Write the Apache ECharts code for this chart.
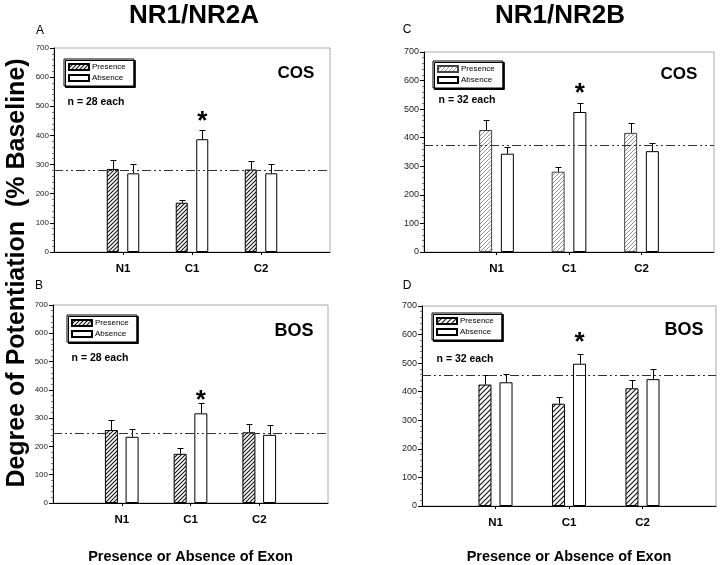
<!DOCTYPE html>
<html>
<head>
<meta charset="utf-8">
<script src="https://cdn.jsdelivr.net/npm/echarts@6/dist/echarts.min.js"></script>
<style>html,body{margin:0;padding:0;background:#fff}#c{width:720px;height:565px}</style>
</head>
<body>
<div id="c"></div>
<script>
// ---------- data ----------
const categories = ['', 'N1', 'C1', 'C2', ''];
const yTicks = [0, 100, 200, 300, 400, 500, 600, 700];

const aPresence = [285, 169, 283];
const aPresenceErr = [32, 11, 30];
const aAbsence = [270, 387, 270];
const aAbsenceErr = [31, 30, 31];
const aBaseline = 280;
const aStar = 448;

const bPresence = [258, 174, 250];
const bPresenceErr = [35, 19, 28];
const bAbsence = [234, 317, 241];
const bAbsenceErr = [29, 36, 34];
const bBaseline = 246;
const bStar = 360;

const cPresence = [427, 281, 417];
const cPresenceErr = [35, 17, 35];
const cAbsence = [344, 490, 353];
const cAbsenceErr = [24, 32, 28];
const cBaseline = 375;
const cStar = 552;

const dPresence = [425, 358, 412];
const dPresenceErr = [33, 23, 28];
const dAbsence = [433, 498, 444];
const dAbsenceErr = [28, 34, 34];
const dBaseline = 458;
const dStar = 570;

const starCategory = 'C1';
const legendNames = ['Presence', 'Absence'];
const panelTags = ['A', 'B', 'C', 'D'];
const nTexts = ['n = 28 each', 'n = 28 each', 'n = 32 each', 'n = 32 each'];
const stimTexts = ['COS', 'BOS', 'COS', 'BOS'];
const groupTitles = ['NR1/NR2A', 'NR1/NR2B'];
const yTitle = 'Degree of Potentiation  (% Baseline)';
const xTitle = 'Presence or Absence of Exon';

// ---------- styles ----------
const FONT = '"Liberation Sans", Arial, Helvetica, sans-serif';
function hatch(color, lw, step) {
  const c = document.createElement('canvas');
  c.width = step; c.height = step;
  const g = c.getContext('2d');
  g.fillStyle = '#fff'; g.fillRect(0, 0, step, step);
  g.strokeStyle = color; g.lineWidth = lw;
  g.beginPath();
  g.moveTo(0, step); g.lineTo(step, 0);
  g.moveTo(-1, 1); g.lineTo(1, -1);
  g.moveTo(step - 1, step + 1); g.lineTo(step + 1, step - 1);
  g.stroke();
  return { image: c, repeat: 'repeat' };
}

const panels = [
  { pres: aPresence, presErr: aPresenceErr, abs: aAbsence, absErr: aAbsenceErr, base: aBaseline, star: aStar,
    grid: { left: 54, top: 48, width: 276, height: 204 }, bw: 12, gap: '71%', off: 10.25,
    pat: hatch('#111', 1.1, 4), pBorder: '#000', lab: 8, legend: { left: 64, top: 59 } },
  { pres: bPresence, presErr: bPresenceErr, abs: bAbsence, absErr: bAbsenceErr, base: bBaseline, star: bStar,
    grid: { left: 53, top: 305, width: 275, height: 207 }, bw: 13, gap: '59%', off: 10.35,
    pat: hatch('#111', 1.1, 4), pBorder: '#000', lab: 8, legend: { left: 67, top: 315 } },
  { pres: cPresence, presErr: cPresenceErr, abs: cAbsence, absErr: cAbsenceErr, base: cBaseline, star: cStar,
    grid: { left: 424, top: 52, width: 290, height: 200 }, bw: 13, gap: '67%', off: 10.85,
    pat: hatch('#777', 0.8, 4), pBorder: '#444', lab: 9, legend: { left: 433, top: 61 } },
  { pres: dPresence, presErr: dPresenceErr, abs: dAbsence, absErr: dAbsenceErr, base: dBaseline, star: dStar,
    grid: { left: 422, top: 306, width: 294, height: 202.5 }, bw: 13, gap: '62%', off: 10.5,
    pat: hatch('#111', 1.1, 5), pBorder: '#000', lab: 9, legend: { left: 432, top: 313 } }
];

function pad(arr) { return ['-'].concat(arr).concat(['-']); }

function errRender(off) {
  return function (params, api) {
    const i = api.value(0), v = api.value(1), e = api.value(2), s = api.value(3);
    const p0 = api.coord([i, v]);
    const p1 = api.coord([i, v + e]);
    const x = Math.round(p0[0] + s * off) + 0.5;
    const yt = Math.round(p1[1]) + 0.5;
    return {
      type: 'group',
      children: [
        { type: 'line', shape: { x1: x, y1: p0[1], x2: x, y2: yt }, style: { stroke: '#000', lineWidth: 1 } },
        { type: 'line', shape: { x1: x - 3, y1: yt, x2: x + 3, y2: yt }, style: { stroke: '#000', lineWidth: 1 } }
      ]
    };
  };
}

const grids = [], xAxes = [], yAxes = [], series = [], legends = [];
panels.forEach((p, k) => {
  const tag = panelTags[k];
  grids.push(Object.assign({ show: true, borderColor: '#aaa', borderWidth: 1, backgroundColor: 'transparent' }, p.grid));
  xAxes.push({
    type: 'category', gridIndex: k, data: categories, boundaryGap: false,
    axisLine: { lineStyle: { color: '#000', width: 1 } },
    axisTick: { show: true, length: 3, interval: (i) => i >= 1 && i <= 3, lineStyle: { color: '#000' } },
    axisLabel: { interval: 0, fontFamily: FONT, fontWeight: 'bold', fontSize: 11.5, color: '#000', margin: 11 },
    splitLine: { show: false },
    name: (k === 1 || k === 3) ? xTitle : '',
    nameLocation: 'middle', nameGap: k === 1 ? 46 : 43,
    nameTextStyle: { fontFamily: FONT, fontWeight: 'bold', fontSize: 14.5, color: '#000' }
  });
  yAxes.push({
    type: 'value', gridIndex: k, min: yTicks[0], max: yTicks[yTicks.length - 1], interval: yTicks[1] - yTicks[0],
    axisLine: { show: true, lineStyle: { color: '#000', width: 1 } },
    axisTick: { show: true, length: 4, lineStyle: { color: '#000' } },
    minorTick: { show: true, splitNumber: 5, length: 2, lineStyle: { color: '#777' } },
    axisLabel: { fontFamily: FONT, fontSize: p.lab, color: '#222', margin: 5 },
    splitLine: { show: false }
  });
  series.push({
    name: legendNames[0] + ' ' + tag, type: 'bar', xAxisIndex: k, yAxisIndex: k,
    data: pad(p.pres), barWidth: p.bw, barGap: p.gap,
    itemStyle: { color: p.pat, borderColor: p.pBorder, borderWidth: 1 },
    markLine: {
      silent: true, symbol: 'none', label: { show: false },
      lineStyle: { type: [9, 3, 2, 3, 2, 3], color: '#333', width: 1 },
      data: [{ yAxis: p.base }]
    },
    z: 2
  });
  series.push({
    name: legendNames[1] + ' ' + tag, type: 'bar', xAxisIndex: k, yAxisIndex: k,
    data: pad(p.abs), barWidth: p.bw, barGap: p.gap,
    itemStyle: { color: '#fff', borderColor: '#000', borderWidth: 1 },
    markPoint: {
      silent: true, symbol: 'circle', symbolSize: 0,
      label: { show: true, formatter: '*', position: 'inside', fontFamily: FONT, fontWeight: 'bold', fontSize: 26, color: '#000' },
      data: [{ coord: [starCategory, p.star] }]
    },
    z: 2
  });
  const errData = [];
  for (let j = 0; j < 3; j++) {
    errData.push([j + 1, p.pres[j], p.presErr[j], -1]);
    errData.push([j + 1, p.abs[j], p.absErr[j], 1]);
  }
  series.push({
    type: 'custom', xAxisIndex: k, yAxisIndex: k, renderItem: errRender(p.off),
    data: errData, encode: { x: 0, y: 1 }, z: 3, silent: true
  });
  legends.push({
    left: p.legend.left, top: p.legend.top, orient: 'vertical',
    data: [legendNames[0] + ' ' + tag, legendNames[1] + ' ' + tag],
    formatter: (n) => n.split(' ')[0],
    icon: 'rect', itemWidth: 20, itemHeight: 6, itemGap: 3,
    padding: [4, 8, 4, 4], borderColor: '#000', borderWidth: 1,
    shadowColor: '#000', shadowOffsetX: 1.5, shadowOffsetY: 1.5, shadowBlur: 0,
    backgroundColor: '#fff', selectedMode: false,
    textStyle: { fontFamily: FONT, fontSize: 8, color: '#000', padding: [0, 0, 0, -2] }
  });
});

function txt(x, y, text, font, extra) {
  return Object.assign({
    type: 'text', x: x, y: y, silent: true,
    style: { text: text, font: font, fill: '#000', align: 'center', verticalAlign: 'middle', textAlign: 'center', textVerticalAlign: 'middle' }
  }, extra || {});
}
const graphics = [
  txt(194, 16, groupTitles[0], 'bold 26px ' + FONT),
  txt(560, 16, groupTitles[1], 'bold 26px ' + FONT),
  txt(40, 31, panelTags[0], '12px ' + FONT),
  txt(39, 286, panelTags[1], '12px ' + FONT),
  txt(407, 30, panelTags[2], '12px ' + FONT),
  txt(407, 286, panelTags[3], '12px ' + FONT),
  txt(296, 73, stimTexts[0], 'bold 17px ' + FONT),
  txt(294, 331, stimTexts[1], 'bold 18px ' + FONT),
  txt(679, 74, stimTexts[2], 'bold 17px ' + FONT),
  txt(684, 330, stimTexts[3], 'bold 18px ' + FONT),
  txt(96, 102, nTexts[0], 'bold 10.5px ' + FONT),
  txt(100, 358, nTexts[1], 'bold 10.5px ' + FONT),
  txt(467, 100, nTexts[2], 'bold 10.5px ' + FONT),
  txt(465, 359, nTexts[3], 'bold 10.5px ' + FONT),
  txt(17, 273, yTitle, 'bold 25px ' + FONT, { rotation: Math.PI / 2 })
];

const chart = echarts.init(document.getElementById('c'), null, { renderer: 'canvas' });
chart.setOption({
  animation: false,
  backgroundColor: '#fff',
  textStyle: { fontFamily: FONT },
  grid: grids, xAxis: xAxes, yAxis: yAxes, series: series, legend: legends,
  graphic: graphics
});
</script>
</body>
</html>
